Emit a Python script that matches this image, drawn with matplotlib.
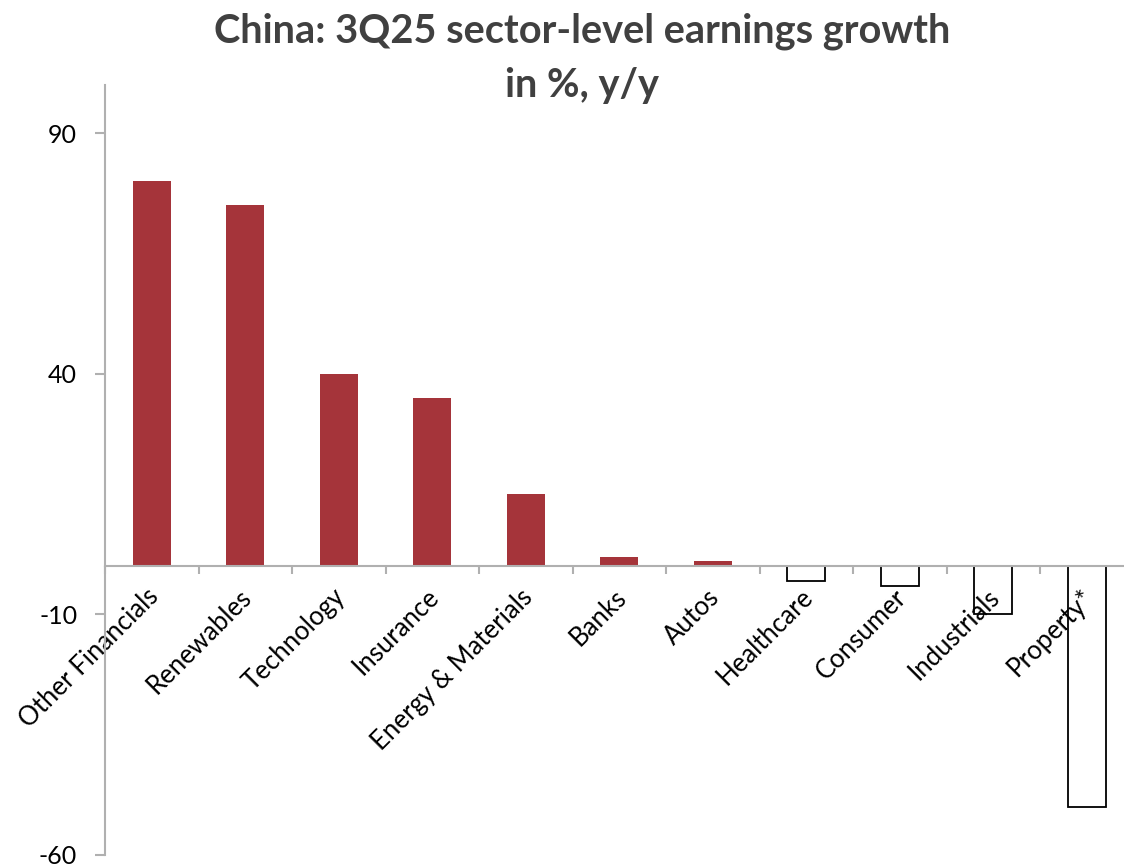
import matplotlib
matplotlib.use("Agg")
import matplotlib.pyplot as plt
import matplotlib.transforms as mtransforms
import numpy as np

plt.rcParams['font.family'] = ['Lato', 'DejaVu Sans']
plt.rcParams['axes.unicode_minus'] = False

sectors = ["Other Financials", "Renewables", "Technology", "Insurance",
           "Energy & Materials", "Banks", "Autos", "Healthcare", "Consumer",
           "Industrials", "Property*"]
growth = [80, 75, 40, 35, 15, 2, 1, -3, -4, -10, -50]

red = "#A5343A"
axis_grey = "#B0B0B0"

fig = plt.figure(figsize=(11.24, 8.68), dpi=100)
ax = fig.add_axes([105 / 1124, 13 / 868, 11 * 93.5 / 1124, (855 - 85) / 868])

x = np.arange(len(sectors))
for xi, v in zip(x, growth):
    if v >= 0:
        ax.bar(xi, v, width=0.41, color=red, zorder=1)
    else:
        ax.bar(xi, v, width=0.41, facecolor="white", edgecolor="black",
               linewidth=1.3, zorder=1)
ax.set_axisbelow(False)

ax.set_xlim(-0.5, len(sectors) - 0.5)
ax.set_ylim(-60, 100)
ax.set_yticks([-60, -10, 40, 90])

for s in ["top", "right"]:
    ax.spines[s].set_visible(False)
ax.spines["bottom"].set_position(("data", 0))
for s in ["left", "bottom"]:
    ax.spines[s].set_color(axis_grey)
    ax.spines[s].set_linewidth(1.5)
    ax.spines[s].set_zorder(3)

# category boundaries carry the tick marks, labels sit at the centres
ax.set_xticks(np.arange(len(sectors) + 1) - 0.5, minor=True)
ax.set_xticks(x)
ax.set_xticklabels(sectors, rotation=45, ha="right", va="top",
                   rotation_mode="anchor", fontsize=18.5, color="black")
ax.tick_params(axis="x", which="major", length=0, pad=0)
ax.tick_params(axis="x", which="minor", length=6, width=1.5, color=axis_grey,
               direction="out")
offset = mtransforms.ScaledTranslation(-6 / 100, -18 / 100, fig.dpi_scale_trans)
for lab in ax.get_xticklabels():
    lab.set_transform(lab.get_transform() + offset)

ax.tick_params(axis="y", length=7, width=1.5, color=axis_grey, pad=13,
               labelsize=18, labelcolor="black")

title_kw = dict(ha="center", va="center", fontsize=28.6, fontweight="bold",
                color="#404040")
fig.text(582 / 1124, 1 - 31 / 868, "China: 3Q25 sector-level earnings growth",
         **title_kw)
fig.text(582 / 1124, 1 - 86 / 868, "in %, y/y", **title_kw)

fig.savefig("out.png", dpi=100)
